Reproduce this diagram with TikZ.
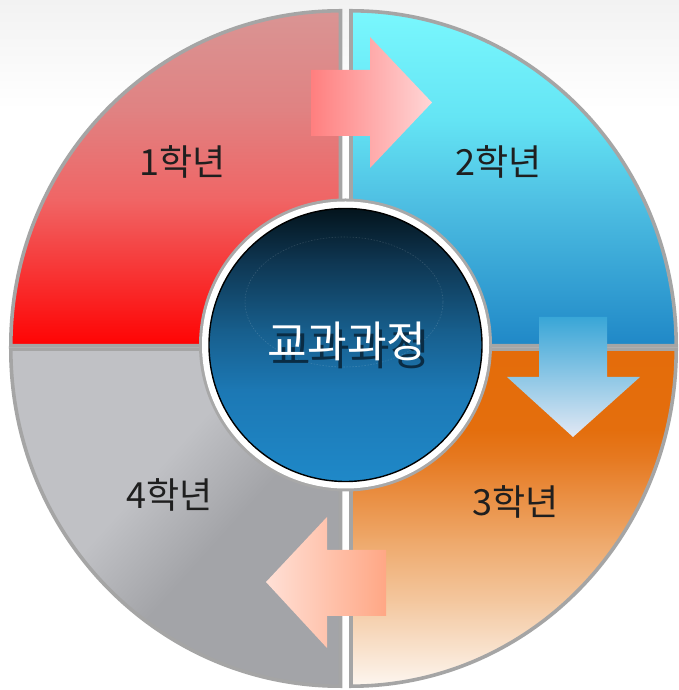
\documentclass[tikz,border=0pt]{standalone}
\usepackage{fontspec}
\newfontfamily\kr{Noto Sans CJK KR}
\definecolor{bgtop}{HTML}{F2F2F2}
\definecolor{qborder}{HTML}{A5A5A5}
\definecolor{qa1}{HTML}{D99594}
\definecolor{qa2}{HTML}{E08282}
\definecolor{qa3}{HTML}{F06565}
\definecolor{qa4}{HTML}{FF0000}
\definecolor{qb1}{HTML}{7AF8FE}
\definecolor{qb2}{HTML}{64E4F4}
\definecolor{qb3}{HTML}{4FC0E3}
\definecolor{qb4}{HTML}{1E86C6}
\definecolor{qc1}{HTML}{E46C0A}
\definecolor{qc2}{HTML}{E46E0D}
\definecolor{qc3}{HTML}{E67A22}
\definecolor{qc4}{HTML}{EEA86A}
\definecolor{qc5}{HTML}{F4C9A2}
\definecolor{qc6}{HTML}{FDF8F3}
\definecolor{qd1}{HTML}{C0C1C5}
\definecolor{qd2}{HTML}{A3A4A8}
\definecolor{ringgray}{HTML}{A8A8A8}
\definecolor{da1}{HTML}{031219}
\definecolor{da2}{HTML}{0E3550}
\definecolor{da3}{HTML}{175E8C}
\definecolor{da4}{HTML}{1C78B4}
\definecolor{da5}{HTML}{1F89C9}
\definecolor{arA1}{HTML}{FF7F7F}
\definecolor{arA2}{HTML}{FFD6D6}
\definecolor{arB1}{HTML}{39A6D7}
\definecolor{arB2}{HTML}{5EDCF1}
\definecolor{arB3}{HTML}{E2E8F4}
\definecolor{arC1}{HTML}{FFE0D6}
\definecolor{arC2}{HTML}{FFA785}
\definecolor{shadowc}{HTML}{0A2C44}
\pgfdeclarehorizontalshading{qgray}{100bp}{color(0bp)=(qd1); color(43bp)=(qd1); color(57bp)=(qd2); color(100bp)=(qd2)}
\begin{document}
\begin{tikzpicture}[x=1pt,y=1pt,
  qline/.style={draw=qborder, line width=3.6pt, line join=miter},
  lbl/.style={font=\kr\fontsize{36}{36}\selectfont, text=black!88, inner sep=0pt},
  coretext/.style={font=\kr\fontsize{43}{43}\selectfont, text=white, inner sep=0pt}]
\useasboundingbox (0,0) rectangle (679,690);
\fill[white] (0,0) rectangle (679,690);
\shade[top color=bgtop, bottom color=white] (0,580) rectangle (679,690);

% Quadrant 1 (top-left)
\begin{scope}
  \clip (340.5,344.2) -- (10.8,344.2) arc[start angle=180, end angle=90, x radius=329.7, y radius=335] -- cycle;
  \shade[top color=qa1, bottom color=qa2] (0,579.5) rectangle (346,682);
  \shade[top color=qa2, bottom color=qa3] (0,489.5) rectangle (346,580.5);
  \shade[top color=qa3, bottom color=qa4] (0,340) rectangle (346,490.5);
\end{scope}
\draw[qline] (340.5,344.2) -- (10.8,344.2) arc[start angle=180, end angle=90, x radius=329.7, y radius=335] -- cycle;

% Quadrant 2 (top-right)
\begin{scope}
  \clip (351,344.2) -- (351,679.2) arc[start angle=90, end angle=0, x radius=325.2, y radius=335] -- cycle;
  \shade[top color=qb1, bottom color=qb2] (345,569.5) rectangle (680,682);
  \shade[top color=qb2, bottom color=qb3] (345,489.5) rectangle (680,570.5);
  \shade[top color=qb3, bottom color=qb4] (345,340) rectangle (680,490.5);
\end{scope}
\draw[qline] (351,344.2) -- (351,679.2) arc[start angle=90, end angle=0, x radius=325.2, y radius=335] -- cycle;

% Quadrant 3 (bottom-right)
\begin{scope}
  \clip (351,340.8) -- (676.2,340.8) arc[start angle=0, end angle=-90, x radius=325.2, y radius=337] -- cycle;
  \shade[top color=qc1, bottom color=qc2] (345,259.5) rectangle (680,345);
  \shade[top color=qc2, bottom color=qc3] (345,229.5) rectangle (680,260.5);
  \shade[top color=qc3, bottom color=qc4] (345,149.5) rectangle (680,230.5);
  \shade[top color=qc4, bottom color=qc5] (345,84.5) rectangle (680,150.5);
  \shade[top color=qc5, bottom color=qc6] (345,0) rectangle (680,85.5);
\end{scope}
\draw[qline] (351,340.8) -- (676.2,340.8) arc[start angle=0, end angle=-90, x radius=325.2, y radius=337] -- cycle;

% Quadrant 4 (bottom-left)
\shade[shading=qgray, shading angle=-42]
  (340.5,340.8) -- (340.5,3.8) arc[start angle=270, end angle=180, x radius=329.7, y radius=337] -- cycle;
\draw[qline] (340.5,340.8) -- (340.5,3.8) arc[start angle=270, end angle=180, x radius=329.7, y radius=337] -- cycle;

% Arrows
\shade[left color=arA1, right color=arA2]
  (311,620) -- (370,620) -- (370,653) -- (432,587.5) -- (370,522) -- (370,554) -- (311,554) -- cycle;
\shade[top color=arB1, middle color=arB2, bottom color=arB3]
  (539,373) -- (607,373) -- (607,313) -- (640,313) -- (573,253) -- (507,313) -- (539,313) -- cycle;
\shade[left color=arC1, right color=arC2]
  (386,140) -- (327,140) -- (327,173) -- (266,108) -- (327,42) -- (327,74) -- (386,74) -- cycle;

% Central circle
\fill[ringgray] (345.5,345) circle[radius=146.5];
\fill[white] (345.5,345) circle[radius=143.5];
\begin{scope}
  \clip (345.5,345) circle[radius=136.5];
  \shade[top color=da1, bottom color=da2] (200,429.5) rectangle (490,485);
  \shade[top color=da2, bottom color=da3] (200,359.5) rectangle (490,430.5);
  \shade[top color=da3, bottom color=da4] (200,299.5) rectangle (490,360.5);
  \shade[top color=da4, bottom color=da5] (200,205) rectangle (490,300.5);
\end{scope}
\draw[black, line width=1.4pt] (345.5,345) circle[radius=136.5];
\draw[white, opacity=0.14, dash pattern=on 1.5pt off 1.5pt, line width=0.6pt] (344,388) ellipse[x radius=99, y radius=65];

% Labels
\node[coretext] (core) at (347,349)
  {\rlap{\hspace{3.5pt}\raisebox{-8pt}[0pt][0pt]{\textcolor{shadowc}{교과과정}}}교과과정};
\node[lbl] (y1) at (183,528) {1학년};
\node[lbl] (y2) at (499,528) {2학년};
\node[lbl] (y3) at (516,188) {3학년};
\node[lbl] (y4) at (170,195) {4학년};
\end{tikzpicture}
\end{document}
